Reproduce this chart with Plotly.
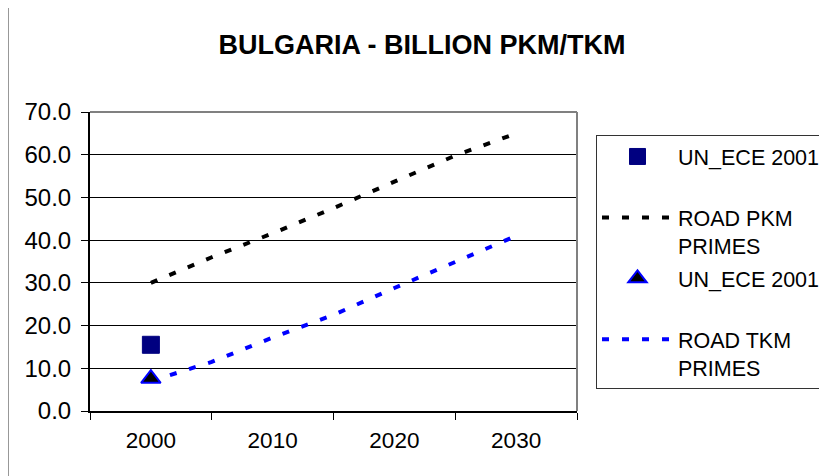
import plotly.graph_objects as go

# PRIMES projections, billion pkm / tkm
years = [2000, 2005, 2010, 2015, 2020, 2025, 2030]
road_pkm = [30.0, 36.0, 41.6, 47.5, 53.7, 59.8, 65.0]
road_tkm = [7.0, 11.5, 17.2, 22.5, 28.8, 35.0, 41.0]

# UN_ECE 2001 observations
unece_year = [2000]
unece_pkm = [15.5]
unece_tkm = [7.6]

y_ticks = [0, 10, 20, 30, 40, 50, 60, 70]
x_labels = [2000, 2010, 2020, 2030]

FONT = "Arial, Liberation Sans, sans-serif"

# the page body adds 8px on the left/top, so shift everything back
OFF = 8

fig = go.Figure()
# lines first so the markers sit on top; legend order set by legendrank
fig.add_trace(go.Scatter(x=years, y=road_pkm, mode="lines", name="ROAD PKM<br>PRIMES",
                         legendgroup="b", legendrank=2,
                         line=dict(color="black", width=4, dash="7px,13px")))
fig.add_trace(go.Scatter(x=years, y=road_tkm, mode="lines", name="ROAD TKM<br>PRIMES",
                         legendgroup="d", legendrank=4,
                         line=dict(color="#0000ff", width=4, dash="7px,13px")))
fig.add_trace(go.Scatter(x=unece_year, y=unece_pkm, mode="markers", name="UN_ECE 2001<br> ",
                         legendgroup="a", legendrank=1,
                         marker=dict(symbol="square", size=17, color="#000080",
                                     line=dict(color="#000080", width=1))))
fig.add_trace(go.Scatter(x=unece_year, y=unece_tkm, mode="markers", name="UN_ECE 2001<br> ",
                         legendgroup="c", legendrank=3,
                         marker=dict(symbol="triangle-up", size=17, color="black",
                                     line=dict(color="#0000ff", width=2))))

shapes = [
    # chart area box
    dict(type="rect", xref="paper", yref="paper", layer="below",
         x0=(8 - 90) / 487, x1=(840 - 90) / 487, y0=(411 - 490) / 299, y1=(411 - 7.5) / 299,
         fillcolor="white", line=dict(color="#333333", width=1)),
    # plot area top and right edges
    dict(type="line", xref="paper", yref="paper", x0=0, x1=1, y0=1, y1=1,
         line=dict(color="#808080", width=2)),
    dict(type="line", xref="paper", yref="paper", x0=1, x1=1, y0=0, y1=1,
         line=dict(color="#808080", width=2)),
]

fig.update_layout(
    width=827, height=476,
    margin=dict(l=90 - OFF, r=827 - 577 + OFF, t=112 - OFF, b=476 - 411 + OFF, autoexpand=False),
    paper_bgcolor="white", plot_bgcolor="rgba(0,0,0,0)",
    font=dict(family=FONT, size=21, color="black"),
    title=dict(text="<b>BULGARIA - BILLION PKM/TKM</b>", font=dict(size=27, family=FONT),
               x=(422 - OFF) / 827, xanchor="center", y=1 - (45 - OFF) / 476, yanchor="middle",
               xref="container", yref="container"),
    showlegend=True,
    legend=dict(x=(596 - 90) / 487, xanchor="left", y=(411 - 135) / 299, yanchor="top",
                bgcolor="white", bordercolor="#333333", borderwidth=1,
                itemwidth=71, valign="top", tracegroupgap=2,
                traceorder="grouped", font=dict(size=21.5, family=FONT)),
    shapes=shapes,
)

fig.update_xaxes(range=[1995, 2035], tickmode="array", tickvals=x_labels,
                 ticks="", ticklabelstandoff=8, showgrid=False, zeroline=False,
                 tickfont=dict(size=22.5),
                 showline=True, linecolor="black", linewidth=2,
                 minor=dict(tickmode="linear", tick0=1995, dtick=10, ticks="outside",
                            ticklen=7, tickcolor="black", tickwidth=1, showgrid=False))
fig.update_yaxes(range=[0, 70], tickmode="array", tickvals=y_ticks, tickformat=".1f",
                 ticks="outside", ticklen=7, tickcolor="black", ticklabelstandoff=5,
                 tickfont=dict(size=24),
                 showgrid=True, gridcolor="black", gridwidth=1, zeroline=False,
                 showline=True, linecolor="black", linewidth=2)

fig.write_html("out.html")
